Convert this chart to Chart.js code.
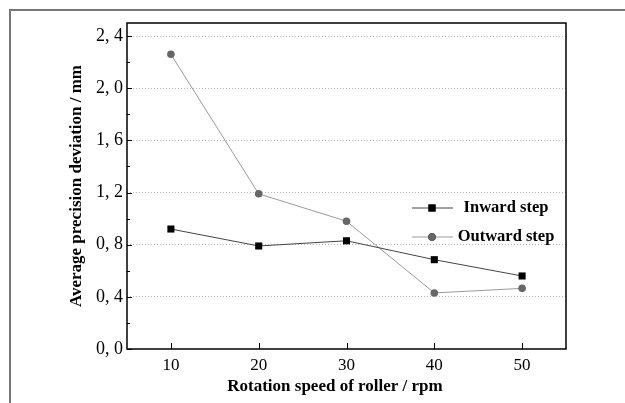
<!DOCTYPE html>
<html>
<head>
<meta charset="utf-8">
<script src="https://cdn.jsdelivr.net/npm/chart.js@4/dist/chart.umd.min.js"></script>
<style>
  html, body { margin: 0; padding: 0; background: #fff; overflow: hidden; }
  #wrap { position: relative; width: 625px; height: 403px; }
  /* cadre gris autour de la figure (droite et bas hors cadre) */
  #frame { position: absolute; left: 9px; top: 9px; width: 700px; height: 500px;
           border-top: 2px solid #777; border-left: 2px solid #777; }
  canvas { position: absolute; left: 0; top: 0; }
</style>
</head>
<body>
<div id="wrap">
  <div id="frame"></div>
  <canvas id="chart" width="625" height="403"></canvas>
</div>
<script>
// ── données ─────────────────────────────────────────────────────────────────
const speeds      = ['10', '20', '30', '40', '50'];
const inwardStep  = [0.92, 0.79, 0.83, 0.685, 0.56];
const outwardStep = [2.26, 1.19, 0.98, 0.43, 0.465];
const yTicks      = [0, 0.4, 0.8, 1.2, 1.6, 2.0, 2.4];
const yMinorTicks = [0.2, 0.6, 1.0, 1.4, 1.8, 2.2];

const SERIF = '"Liberation Serif", "DejaVu Serif", serif';
const X_TITLE = 'Rotation speed of roller / rpm';

// virgule décimale avec espace, comme sur l'original : "2, 4"
function fmtTick(v) {
  return v.toFixed(1).replace('.', ', ');
}

// cadre du graphique, graduations intérieures, titre x (décalé à gauche
// sur l'original) et légende dans la zone de tracé
const decorPlugin = {
  id: 'decor',
  afterDraw(chart) {
    const { ctx, chartArea: a, scales: { x, y } } = chart;
    ctx.save();
    ctx.strokeStyle = '#000';
    ctx.lineWidth = 1.5;
    ctx.strokeRect(a.left, a.top, a.right - a.left, a.bottom - a.top);

    ctx.lineWidth = 1;
    ctx.beginPath();
    yTicks.forEach(v => {
      const py = Math.round(y.getPixelForValue(v)) + 0.5;
      ctx.moveTo(a.left, py); ctx.lineTo(a.left + 5, py);
    });
    yMinorTicks.forEach(v => {
      const py = Math.round(y.getPixelForValue(v)) + 0.5;
      ctx.moveTo(a.left, py); ctx.lineTo(a.left + 3, py);
    });
    speeds.forEach((s, i) => {
      const px = Math.round(x.getPixelForValue(i)) + 0.5;
      ctx.moveTo(px, a.bottom); ctx.lineTo(px, a.bottom - 6);
    });
    ctx.stroke();

    ctx.fillStyle = '#000';
    ctx.font = 'bold 17px ' + SERIF;
    ctx.textAlign = 'center';
    ctx.textBaseline = 'alphabetic';
    ctx.fillText(X_TITLE, 335, 391);

    // légende
    const items = [
      { ds: chart.data.datasets[0], y: 208 },
      { ds: chart.data.datasets[1], y: 237 }
    ];
    items.forEach(({ ds, y: ly }) => {
      ctx.strokeStyle = ds.borderColor;
      ctx.lineWidth = ds.borderWidth;
      ctx.beginPath();
      ctx.moveTo(412, ly); ctx.lineTo(453, ly);
      ctx.stroke();
      Chart.helpers.drawPoint(ctx, {
        pointStyle: ds.pointStyle, radius: ds.pointRadius, borderWidth: 0
      }, 432, ly);
      ctx.fillStyle = ds.pointBackgroundColor;
      ctx.fill();
      ctx.fillStyle = '#000';
      ctx.font = 'bold 16.5px ' + SERIF;
      ctx.textAlign = 'center';
      ctx.textBaseline = 'middle';
      ctx.fillText(ds.label, 506, ly);
    });
    ctx.restore();
  }
};

new Chart(document.getElementById('chart'), {
  type: 'line',
  data: {
    labels: speeds,
    datasets: [
      {
        label: 'Inward step',
        data: inwardStep,
        borderColor: '#444',
        borderWidth: 1,
        pointStyle: 'rect',
        pointRadius: 5,
        pointBackgroundColor: '#000',
        pointBorderWidth: 0,
        tension: 0
      },
      {
        label: 'Outward step',
        data: outwardStep,
        borderColor: '#9a9a9a',
        borderWidth: 1,
        pointStyle: 'circle',
        pointRadius: 3.8,
        pointBackgroundColor: '#666',
        pointBorderWidth: 0,
        tension: 0
      }
    ]
  },
  options: {
    responsive: false,
    animation: false,
    layout: { padding: { top: 23, right: 59, left: 0, bottom: 0 } },
    plugins: { legend: { display: false }, tooltip: { enabled: false } },
    scales: {
      x: {
        type: 'category',
        offset: true,
        afterFit(s) { s.height = 54; },
        grid: { display: false, drawTicks: false },
        border: { display: false },
        ticks: { color: '#000', padding: 6, font: { family: SERIF, size: 17 } },
        title: { display: false }
      },
      y: {
        min: 0,
        max: 2.5,
        afterFit(s) { s.width = 127; },
        afterBuildTicks(s) { s.ticks = yTicks.map(v => ({ value: v })); },
        grid: {
          drawTicks: false,
          color: c => (c.tick && c.tick.value === 0) ? 'rgba(0,0,0,0)' : '#b5b5b5',
          lineWidth: 1
        },
        border: { display: false, dash: [1, 2] },
        ticks: {
          color: '#000',
          padding: 4,
          font: { family: SERIF, size: 18 },
          callback: v => fmtTick(v)
        },
        title: {
          display: true,
          text: 'Average precision deviation / mm',
          color: '#000',
          padding: { top: 66, bottom: 0 },
          font: { family: SERIF, size: 17, weight: 'bold' }
        }
      }
    }
  },
  plugins: [decorPlugin]
});
</script>
</body>
</html>
